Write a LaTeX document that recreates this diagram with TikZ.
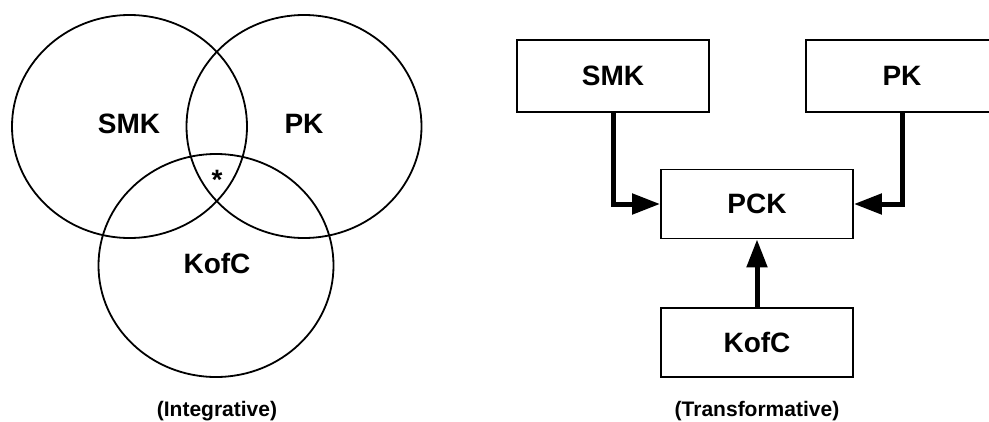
\documentclass[tikz,border=0pt]{standalone}
\usepackage{fontspec}
\setmainfont{Liberation Sans}
\usetikzlibrary{arrows.meta, shapes.geometric, positioning}

\begin{document}
\begin{tikzpicture}[x=1pt, y=-1pt]
	\tikzstyle{Set} = [ellipse, draw=black, line width=1.8pt, minimum width=235pt, minimum height=223pt, inner sep=0pt]
	\tikzstyle{Box} = [rectangle, draw=black, line width=1.8pt, minimum width=192pt, inner sep=0pt, font=\fontsize{28}{33}\selectfont\bfseries]
	\tikzstyle{Label} = [font=\fontsize{28}{33}\selectfont\bfseries]
	\tikzstyle{Caption} = [font=\fontsize{21}{25}\selectfont\bfseries]
	\tikzstyle{arrow} = [line width=5pt, -{Triangle[length=28pt, width=20pt]}]

	\useasboundingbox (0,0) rectangle (989,421);
	\clip (0,0) rectangle (989,421);

	% integrative
	\node (smkset) [Set] at (129.5,126.5) {};
	\node (pkset) [Set] at (304,126.5) {};
	\node (kofcset) [Set] at (216,265.5) {};
	\node (smklabel) [Label] at (129,124) {SMK};
	\node (pklabel) [Label] at (304,124) {PK};
	\node (kofclabel) [Label] at (217,263) {KofC};
	\node (star) [Label] at (217,180) {*};
	\node (integ) [Caption] at (217,411) {(Integrative)};

	% transformative
	\node (smk) [Box, minimum height=72pt] at (613,76) {SMK};
	\node (pk) [Box, minimum height=72pt] at (902,76) {PK};
	\node (pck) [Box, minimum height=69pt] at (757,204) {PCK};
	\node (kofc) [Box, minimum height=69pt] at (757,342.5) {KofC};
	\node (trans) [Caption] at (757,411) {(Transformative)};

	\draw [arrow] (smk.south) |- (pck.west);
	\draw [arrow] (pk.south) |- (pck.east);
	\draw [arrow] (kofc.north) -- (pck.south);
\end{tikzpicture}
\end{document}
